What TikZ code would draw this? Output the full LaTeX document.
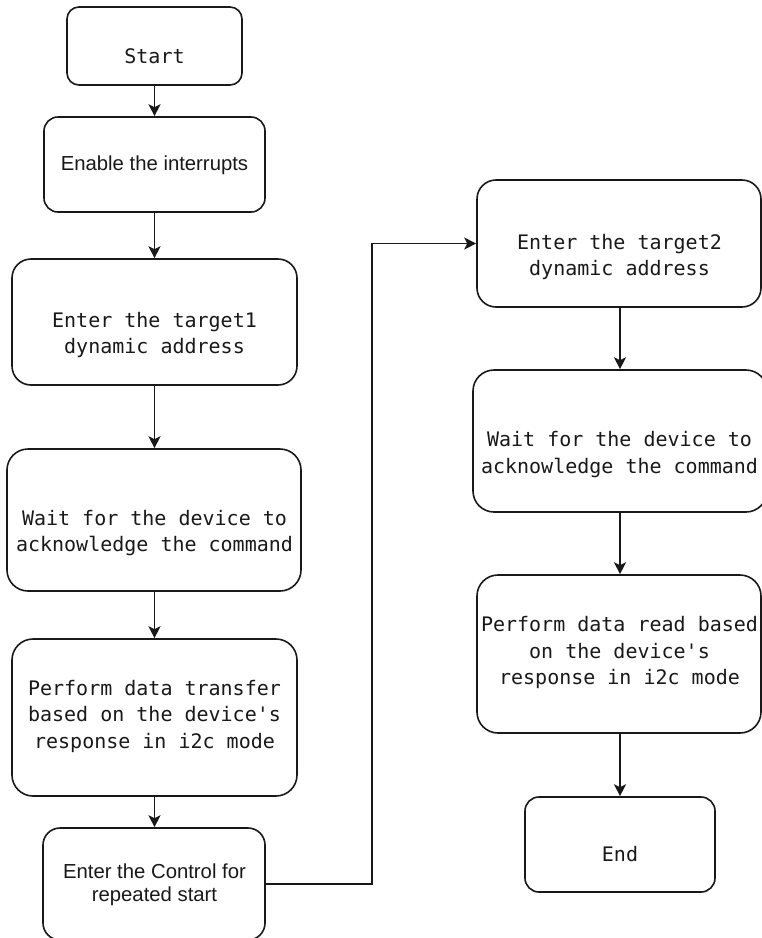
\documentclass[tikz,border=0pt]{standalone}
\usepackage{fontspec}
\newfontfamily\monof{DejaVu Sans Mono}
\newfontfamily\sansf{Liberation Sans}
\usetikzlibrary{arrows.meta}
\definecolor{ink}{RGB}{25,25,25}
\definecolor{txt}{RGB}{25,25,25}
\newcommand{\mylines}[1]{\begin{tabular}[t]{@{}c@{}}#1\end{tabular}}
\tikzset{
  box/.style={draw=ink, line width=1.6pt, fill=white, inner sep=0pt, rounded corners=#1},
  mono/.style={font=\monof\fontsize{20}{26.5}\selectfont, text=txt, anchor=base, inner sep=0pt},
  sans/.style={font=\sansf\fontsize{20.3}{23.5}\selectfont, text=txt, anchor=base, inner sep=0pt},
  arr/.style={draw=ink, line width=1.6pt, -{Stealth[length=12pt,width=12pt,inset=3pt]}},
}
\begin{document}
\begin{tikzpicture}[x=1pt, y=-1pt]
\useasboundingbox (0,0) rectangle (762,938);
\fill[white] (0,0) rectangle (762,938);
\clip (0,0) rectangle (762,938);

% left column boxes
\node[box=12, minimum width=175pt, minimum height=78pt] (start) at (154.5,46) {};
\node[box=14, minimum width=221pt, minimum height=95pt] (enable) at (154.5,164.5) {};
\node[box=19, minimum width=285pt, minimum height=126pt] (tgt1) at (154.5,322) {};
\node[box=21, minimum width=294pt, minimum height=142pt] (wait1) at (154,520) {};
\node[box=21, minimum width=285pt, minimum height=157pt] (perf1) at (154.5,717.5) {};
\node[box=17, minimum width=222pt, minimum height=112pt] (ctrl) at (154,884) {};

% right column boxes
\node[box=19, minimum width=284pt, minimum height=127pt] (tgt2) at (619,243.5) {};
\node[box=21, minimum width=294pt, minimum height=142pt] (wait2) at (620,441) {};
\node[box=21, minimum width=284pt, minimum height=158pt] (perf2) at (619,654) {};
\node[box=14, minimum width=190pt, minimum height=95pt] (endb) at (620,844.5) {};

% texts
\node[mono] (startT) at (154.5,63.3) {Start};
\node[sans] (enableT) at (154.5,170.5) {Enable the interrupts};
\node[mono] (tgt1T) at (154.5,327) {\mylines{Enter the target1\\dynamic address}};
\node[mono] (wait1T) at (154.5,525) {\mylines{Wait for the device to\\acknowledge the command}};
\node[mono] (perf1T) at (154.5,695) {\mylines{Perform data transfer\\based on the device's\\response in i2c mode}};
\node[sans] (ctrlT) at (154.5,878) {\mylines{Enter the Control for\\repeated start}};
\node[mono] (tgt2T) at (619.5,249) {\mylines{Enter the target2\\dynamic address}};
\node[mono] (wait2T) at (619.5,446.7) {\mylines{Wait for the device to\\acknowledge the command}};
\node[mono] (perf2T) at (619.5,631.7) {\mylines{Perform data read based\\on the device's\\response in i2c mode}};
\node[mono] (endT) at (620,861.7) {End};

% connectors
\draw[arr] (start.south) -- (enable.north);
\draw[arr] (enable.south) -- (tgt1.north);
\draw[arr] (tgt1.south) -- (wait1.north -| tgt1.south);
\draw[arr] (wait1.south -| tgt1.south) -- (perf1.north);
\draw[arr] (perf1.south) -- (ctrl.north -| perf1.south);
\coordinate (bend) at (372,0);
\draw[arr] (ctrl.east) -- (ctrl.east -| bend) -- (tgt2.west -| bend) -- (tgt2.west);
\draw[arr] (tgt2.south -| wait2.north) -- (wait2.north);
\draw[arr] (wait2.south) -- (perf2.north -| wait2.south);
\draw[arr] (perf2.south -| endb.north) -- (endb.north);
\end{tikzpicture}
\end{document}
